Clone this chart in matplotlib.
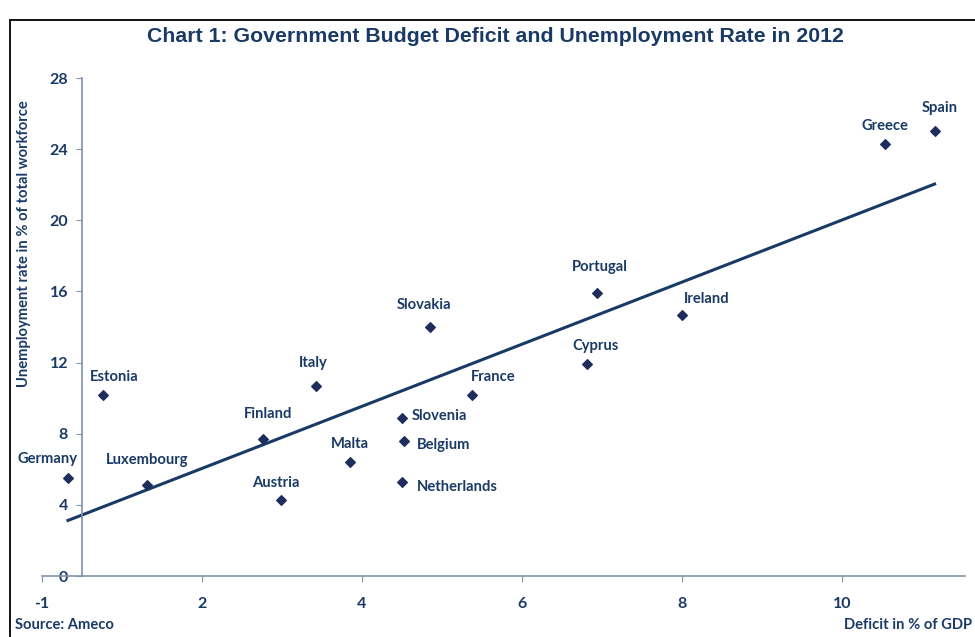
import numpy as np
import matplotlib.pyplot as plt
from matplotlib.patches import Rectangle

# deficit in % of GDP, unemployment in % of workforce (2012)
countries = ['Spain', 'Greece', 'Portugal', 'Ireland', 'Slovakia', 'Cyprus', 'Italy',
             'France', 'Estonia', 'Slovenia', 'Finland', 'Belgium', 'Malta', 'Germany',
             'Netherlands', 'Luxembourg', 'Austria']
deficit = [10.66, 10.04, 6.44, 7.5, 4.35, 6.31, 2.93, 4.875, 0.26, 4.0, 2.26, 4.03,
           3.35, -0.175, 4.0, 0.81, 2.49]
unemployment = [25.0, 24.3, 15.9, 14.7, 14.0, 11.9, 10.7, 10.2, 10.2, 8.9, 7.7, 7.6,
                6.4, 5.5, 5.3, 5.1, 4.3]

# tick labels as printed on the chart (shifted half a unit against the data)
xtick_pos = [-0.5, 1.5, 3.5, 5.5, 7.5, 9.5]
xtick_labels = ['-1', '2', '4', '6', '8', '10']
yticks = [0, 4, 8, 12, 16, 20, 24, 28]

# label offsets in points (dx, dy, ha)
offsets = {
    'Spain': (4, 17, 'center'), 'Greece': (0, 13, 'center'), 'Portugal': (2, 19, 'center'),
    'Ireland': (18, 11, 'center'), 'Slovakia': (-4, 16, 'center'), 'Cyprus': (6, 13, 'center'),
    'Italy': (-2, 16, 'center'), 'France': (15, 13, 'center'), 'Estonia': (8, 13, 'center'),
    'Slovenia': (7, 1, 'left'), 'Finland': (4, 18, 'center'), 'Belgium': (9, -3, 'left'),
    'Malta': (0, 13, 'center'), 'Germany': (-15, 14, 'center'), 'Netherlands': (11, -4, 'left'),
    'Luxembourg': (0, 18, 'center'), 'Austria': (-4, 12, 'center'),
}

navy = '#1A3A66'
mark = '#1F2D5C'
axcol = '#7F93AD'

fig = plt.figure(figsize=(9.75, 6.37), dpi=100)
fig.patches.append(Rectangle((10/975, -0.1), 1.2, (627-10)/637 + 0.1,
                             transform=fig.transFigure, fill=False, ec='black', lw=1.3))

ax = fig.add_axes([42/975, 61/637, 923/975, 498/637])
ax.set_xlim(-0.5, 11.04)
ax.set_ylim(0, 28)

ax.scatter(deficit, unemployment, marker='D', s=24, color=mark, zorder=3)

# linear trend
k, b = np.polyfit(deficit, unemployment, 1)
xs = np.array([min(deficit), max(deficit)])
ax.plot(xs, k * xs + b, color=navy, lw=2.2, zorder=2)

for c, xv, yv in zip(countries, deficit, unemployment):
    dx, dy, ha = offsets[c]
    ax.annotate(c, (xv, yv), xytext=(dx, dy), textcoords='offset points',
                ha=ha, va='center', fontsize=10.6, fontweight='bold', color=navy,
                family='Lato')

for s in ['top', 'right']:
    ax.spines[s].set_visible(False)
ax.spines['left'].set_position(('data', 0))
for s in ['left', 'bottom']:
    ax.spines[s].set_color(axcol)
    ax.spines[s].set_linewidth(1.2)

ax.set_xticks(xtick_pos)
ax.set_xticklabels(xtick_labels)
ax.set_yticks(yticks)
ax.tick_params(axis='x', direction='out', length=4, color=axcol, pad=11)
ax.tick_params(axis='y', direction='out', length=4, color=axcol, pad=6)
for lab in ax.get_xticklabels() + ax.get_yticklabels():
    lab.set_fontfamily('Lato')
    lab.set_fontweight('bold')
    lab.set_fontsize(11.5)
    lab.set_color(navy)

fig.text(495/975, 1 - 36/637, 'Chart 1: Government Budget Deficit and Unemployment Rate in 2012',
         ha='center', va='center', fontsize=15.3, fontweight='bold', color=navy,
         family='Liberation Sans')
fig.text(24/975, 1 - 244/637, 'Unemployment rate in % of total workforce', rotation=90,
         ha='center', va='center', fontsize=10.6, fontweight='bold', color=navy, family='Lato')
fig.text(15/975, 1 - 625/637, 'Source: Ameco', ha='left', va='center', fontsize=10.6,
         fontweight='bold', color=navy, family='Lato')
fig.text(972/975, 1 - 625/637, 'Deficit in % of GDP', ha='right', va='center', fontsize=10.6,
         fontweight='bold', color=navy, family='Lato')

fig.savefig('out.png', dpi=100)
